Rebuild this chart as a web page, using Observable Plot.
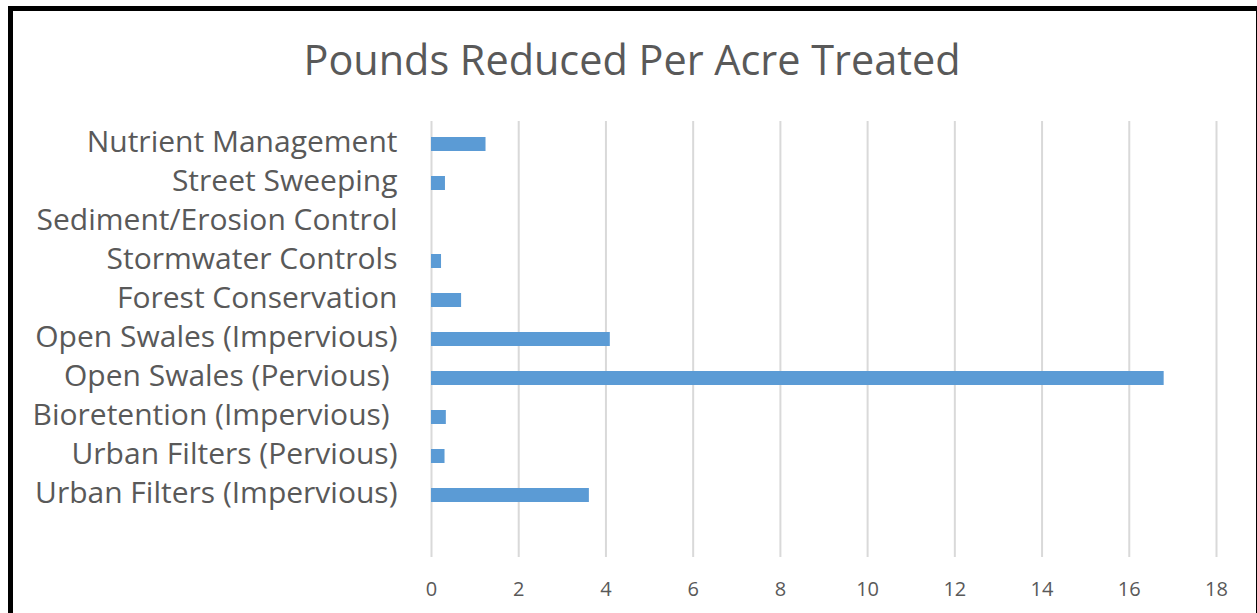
<!DOCTYPE html>
<html>
<head>
<meta charset="utf-8">
<script src="https://cdn.jsdelivr.net/npm/d3@7"></script>
<script src="https://cdn.jsdelivr.net/npm/@observablehq/plot@0.6"></script>
<style>
  html, body { margin: 0; padding: 0; background: #fff; overflow: hidden; }
  #page { position: relative; width: 1257px; height: 613px; }
  #title { position: absolute; left: 8px; width: 1248px; top: 31px; text-align: center;
           font-family: "Open Sans", sans-serif; font-size: 41.4px; color: #595959; line-height: 56px; }
  #chart { position: absolute; left: 0; top: 100px; }
  #chart svg text { white-space: pre; }
  #frame { position: absolute; left: 8px; top: 6px; width: 1243px; height: 700px;
           border: 5px solid #000; box-sizing: content-box; pointer-events: none; }
</style>
</head>
<body>
<div id="page">
  <div id="title">Pounds Reduced Per Acre Treated</div>
  <div id="chart"></div>
  <div id="frame"></div>
</div>
<script>
const categories = [
  "Nutrient Management",
  "Street Sweeping",
  "Sediment/Erosion Control",
  "Stormwater Controls",
  "Forest Conservation",
  "Open Swales (Impervious)",
  "Open Swales (Pervious) ",
  "Bioretention (Impervious) ",
  "Urban Filters (Pervious)",
  "Urban Filters (Impervious)"
];
const values = [1.25, 0.32, 0, 0.23, 0.69, 4.10, 16.8, 0.34, 0.31, 3.62];
const xTicks = [0, 2, 4, 6, 8, 10, 12, 14, 16, 18];

const data = categories.map((c, i) => ({category: c, value: values[i]}));

const chart = Plot.plot({
  width: 1257,
  height: 513,
  marginTop: 21,
  marginBottom: 56,
  marginLeft: 431,
  marginRight: 41,
  style: {fontFamily: "'Open Sans', sans-serif", color: "#595959", background: "transparent"},
  x: {domain: [0, 18], ticks: xTicks, label: null},
  y: {domain: [...categories, ""], paddingInner: 0.64, paddingOuter: 0.32, label: null},
  marks: [
    Plot.gridX(xTicks, {stroke: "#d9d9d9", strokeOpacity: 1, strokeWidth: 2}),
    Plot.barX(data, {x: "value", y: "category", fill: "#5b9bd5"}),
    Plot.axisX({ticks: xTicks, tickSize: 0, tickPadding: 24, fontSize: 20, fill: "#595959", label: null}),
    Plot.axisY({tickSize: 0, tickPadding: 34, fontSize: 30, dy: -2, fill: "#595959", label: null})
  ]
});
document.getElementById("chart").appendChild(chart);
</script>
</body>
</html>
